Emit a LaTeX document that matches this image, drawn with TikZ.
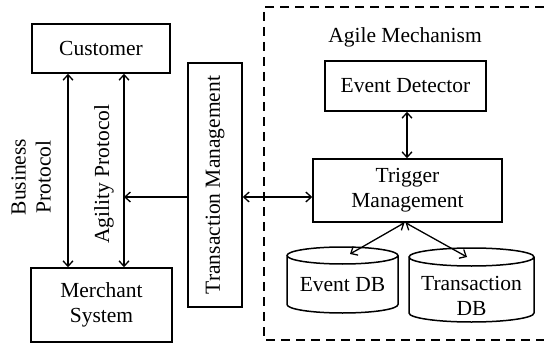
\documentclass[tikz,border=0pt]{standalone}
\usepackage{fontspec}
\setmainfont{Liberation Serif}
\usetikzlibrary{arrows.meta,calc}
\newcommand\drawcyl[5]{%
 \draw[line width=1.5pt] ($(#1)+(-#2,#3-#5)$) -- ($(#1)+(-#2,#4+#5)$)
   arc[start angle=180,end angle=360,x radius=#2pt,y radius=#5pt]
   -- ($(#1)+(#2,#3-#5)$)
   arc[start angle=0,end angle=360,x radius=#2pt,y radius=#5pt];}
\begin{document}
\begin{tikzpicture}[x=1pt,y=1pt,
  box/.style={draw,line width=1.5pt,inner sep=0pt,align=center,font=\fontsize{21.5}{25}\selectfont},
  txt/.style={inner sep=0pt,align=center,font=\fontsize{21.5}{25}\selectfont},
  arr/.style={line width=1.3pt,{Straight Barb[length=5.5pt,width=10pt]}-{Straight Barb[length=5.5pt,width=10pt]}},
  sarr/.style={line width=1.3pt,-{Straight Barb[length=5.5pt,width=10pt]}},
  ]
\useasboundingbox (0,0) rectangle (544,349);
% boxes
\node[box,minimum width=138pt,minimum height=49pt] (cust) at (101,300.5) {Customer};
\node[box,minimum width=141pt,minimum height=74pt] (merch) at (101.5,44) {Merchant\\System};
\node[box,minimum width=54pt,minimum height=244pt] (tm) at (215,164) {\rotatebox{90}{Transaction Management}};
\node[box,minimum width=161pt,minimum height=50pt] (ed) at (405.5,263) {Event Detector};
\node[box,minimum width=189pt,minimum height=63pt] (trig) at (407.5,158.5) {Trigger\\Management};
% labels
\node[txt] (am) at (405,312) {Agile Mechanism};
\node[txt,rotate=90] (bp) at (31,172) {Business\\Protocol};
\node[txt,rotate=90] (ap) at (104,175) {Agility Protocol};
% databases
\node[txt] (edb) at (342.5,64) {Event DB};
\drawcyl{edb}{55.5}{38}{-28}{8.5}
\node[txt] (tdb) at (471.5,53) {Transaction\\DB};
\drawcyl{tdb}{62.5}{48}{-26}{9}
% dashed frame
\draw[line width=1.3pt,dash pattern=on 9pt off 6pt] (544,342) -- (264,342) -- (264,9) -- (544,9);
% connectors
\draw[arr] (68,0 |- cust.south) -- (68,0 |- merch.north);
\draw[arr] (124,0 |- cust.south) -- (124,0 |- merch.north);
\coordinate (aj) at (124,152);
\draw[sarr] (tm.west |- aj) -- (aj);
\draw[arr] (tm.east |- aj) -- (trig.west |- aj);
\draw[arr] (407,0 |- ed.south) -- (407,0 |- trig.north);
\draw[arr] ($(trig.south)+(-3,0)$) -- ($(edb)+(7.5,31)$);
\draw[arr] ($(trig.south)+(-2,0)$) -- ($(tdb)+(-4.5,39)$);
\end{tikzpicture}
\end{document}
